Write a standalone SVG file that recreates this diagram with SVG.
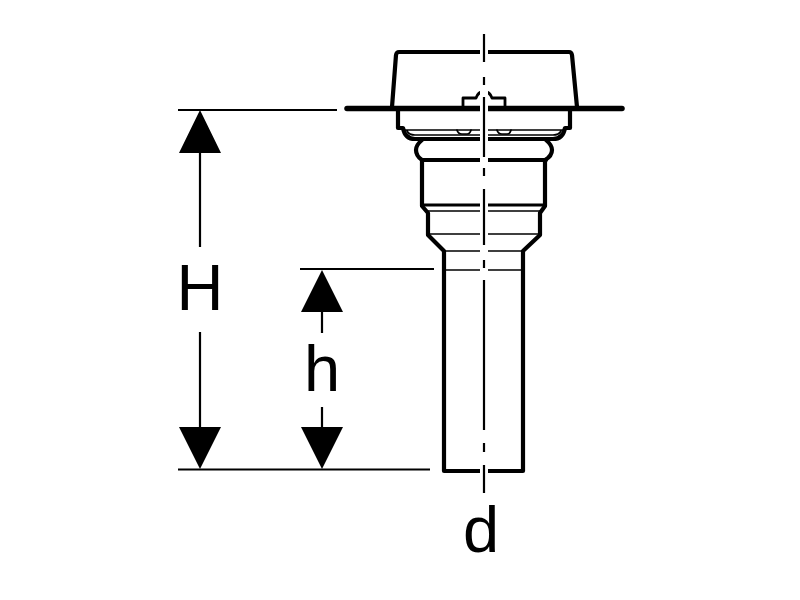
<svg xmlns="http://www.w3.org/2000/svg" width="800" height="600" viewBox="0 0 800 600">
<style>
.k{fill:none;stroke:#000;stroke-linejoin:round;stroke-linecap:round}
.t6{stroke-width:5.500}.t4{stroke-width:4.200}.t3{stroke-width:2.800}.t1{stroke-width:1.700}
.d{fill:none;stroke:#000;stroke-width:2.200}
.a{fill:#000}
text{font-family:"Liberation Sans",Arial,sans-serif;font-size:65px;fill:#000;text-anchor:middle}
</style>
<rect width="800" height="600" fill="#fff"/>
<g id="fitting">
<path class="k t6" d="M347 108.500H622"/>
<path class="k t4" d="M392 107L396 55Q396.500 52 399 52H569Q571.500 52 572 55L577 107"/>
<path class="k t3" d="M463 107V98H476Q478 92 484 91Q490 92 492 98H505V107"/>
<path class="k t4" d="M398 109V128H403Q405 139 415 139H553Q563 139 565 128H570V109"/>
<path class="k t1" d="M405 130H564M407 131Q409 135 415 135H553Q559 135 561 131"/>
<path class="k t1" d="M457 130Q458 134 462 134H467Q470 134 471 130M497 130Q498 134 502 134H507Q510 134 511 130"/>
<path class="k t4" d="M422 140Q416 145 416 150Q416 156 422 160V206L428 213V235L444 251V471H523V251L540 235V213L545 206V160Q552 156 552 150Q552 145 546 140"/>
<path class="k t4" d="M422 160H546"/>
<path class="k t3" d="M422 205H545"/>
<path class="k t1" d="M428 211H540M429 234H539M444 251H523M444 270H523"/>
</g>
<rect x="480" y="40" width="8" height="445" fill="#fff"/>
<g id="connectors">
<path class="d" d="M484 34V62M484 77V85M484 97V157M484 168V176M484 189V245M484 260V268M484 280V430M484 443V452M484 465V493"/>
<path class="d" d="M178 110H337M178 469.500H430M300 269H434"/>
<path class="d" d="M200 150V247M200 332V430M322 310V333M322 407V430"/>
<path class="a" d="M200 110L221 153H179ZM200 469L179 427H221ZM322 270L343 312H301ZM322 469L301 427H343Z"/>
</g>
<g id="labels">
<text x="200" y="310">H</text>
<text x="322" y="391">h</text>
<text x="481" y="552">d</text>
</g>
</svg>
